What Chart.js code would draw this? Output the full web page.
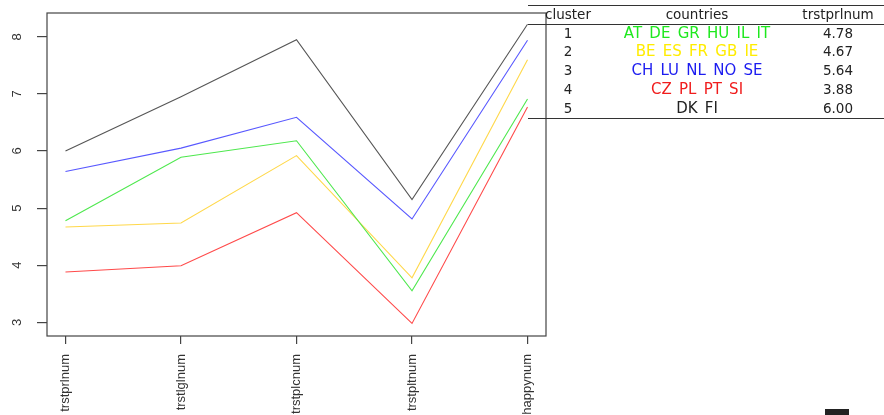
<!DOCTYPE html>
<html>
<head>
<meta charset="utf-8">
<script src="https://cdn.jsdelivr.net/npm/chart.js@4"></script>
<style>
  html, body { margin: 0; padding: 0; background: #fff; }
  #wrap { position: relative; width: 884px; height: 415px; overflow: hidden; }
  #chart { position: absolute; left: 0; top: 0; }
  .rule { position: absolute; left: 528px; right: 0; height: 0; border-top: 1.3px solid #333; }
  .cell { position: absolute; font: 13.5px "DejaVu Sans", sans-serif; color: #222; transform: translate(-50%, -50%); white-space: nowrap; }
  .cell.ctry { font-size: 15px; word-spacing: 2.5px; }
  #logo { position: absolute; left: 825px; top: 409px; width: 24px; height: 8px; background: #222; }
</style>
</head>
<body>
<div id="wrap">
  <canvas id="chart" width="884" height="415"></canvas>
  <div id="table"></div>
  <div id="logo"></div>
</div>
<script>
const variables = ['trstprlnum', 'trstlglnum', 'trstplcnum', 'trstpltnum', 'happynum'];
const yTicks = [3, 4, 5, 6, 7, 8];

const cluster1 = [4.78, 5.89, 6.18, 3.55, 6.91];
const cluster2 = [4.67, 4.74, 5.92, 3.78, 7.60];
const cluster3 = [5.64, 6.05, 6.59, 4.81, 7.94];
const cluster4 = [3.88, 3.99, 4.92, 2.98, 6.77];
const cluster5 = [6.00, 6.95, 7.95, 5.15, 8.22];

const lineColors = ['#4ee84e', '#ffd84a', '#5858ff', '#ff4a4a', '#555555'];

// table next to the plot
const tableHeader = ['cluster', 'countries', 'trstprlnum'];
const clusterIds = ['1', '2', '3', '4', '5'];
const countries = ['AT DE GR HU IL IT', 'BE ES FR GB IE', 'CH LU NL NO SE', 'CZ PL PT SI', 'DK FI'];
const trstprl = ['4.78', '4.67', '5.64', '3.88', '6.00'];
const textColors = ['#1ee81e', '#ffec00', '#1c1cf0', '#f01c1c', '#222222'];

const series = [cluster1, cluster2, cluster3, cluster4, cluster5];

const datasets = series.map((vals, i) => ({
    data: vals.map((v, j) => ({ x: j, y: v })),
    borderColor: lineColors[i],
    borderWidth: 1.1,
    pointRadius: 0,
    tension: 0,
    fill: false
}));

// box around plot + rotated y labels like R
const boxPlugin = {
    id: 'box',
    afterDraw(chart) {
        const { ctx, chartArea: a } = chart;
        ctx.save();
        ctx.strokeStyle = '#444';
        ctx.lineWidth = 1.2;
        ctx.strokeRect(a.left, a.top, a.right - a.left, a.bottom - a.top);
        const ys = chart.scales.y;
        ctx.fillStyle = '#333';
        ctx.font = '13px "Liberation Sans", Arial, sans-serif';
        ctx.textAlign = 'center';
        ctx.textBaseline = 'middle';
        ys.ticks.forEach(t => {
            const py = ys.getPixelForValue(t.value);
            ctx.save();
            ctx.translate(17, py);
            ctx.rotate(-Math.PI / 2);
            ctx.fillText(String(t.value), 0, 0);
            ctx.restore();
        });
        ctx.restore();
    }
};

new Chart(document.getElementById('chart'), {
    type: 'line',
    data: { datasets },
    options: {
        responsive: false,
        animation: false,
        layout: { padding: { left: 0, top: 13, right: 338, bottom: 0 } },
        plugins: { legend: { display: false }, tooltip: { enabled: false } },
        scales: {
            x: {
                type: 'linear',
                min: -0.16,
                max: 4.16,
                afterBuildTicks: s => { s.ticks = variables.map((v, i) => ({ value: i })); },
                afterFit: s => { s.height = 79; },
                border: { display: false },
                grid: { drawOnChartArea: false, drawTicks: true, tickLength: 8, color: '#444', lineWidth: 1.2 },
                ticks: {
                    autoSkip: false,
                    maxRotation: 90,
                    minRotation: 90,
                    padding: 10,
                    color: '#333',
                    font: { family: '"Liberation Sans", Arial, sans-serif', size: 13 },
                    callback: v => variables[v]
                }
            },
            y: {
                min: 2.76,
                max: 8.417,
                afterBuildTicks: s => { s.ticks = yTicks.map(v => ({ value: v })); },
                afterFit: s => { s.width = 47; },
                border: { display: false },
                grid: { drawOnChartArea: false, drawTicks: true, tickLength: 10, color: '#444', lineWidth: 1.2 },
                ticks: { color: 'rgba(0,0,0,0)', padding: 0 }
            }
        }
    },
    plugins: [boxPlugin]
});

// build the table
const table = document.getElementById('table');
const colX = [568, 697, 838];
const rowY = [14, 32.5, 51.3, 70, 88.7, 107.5];
const addCell = (txt, x, y, color, cls) => {
    const d = document.createElement('div');
    d.className = 'cell' + (cls ? ' ' + cls : '');
    d.style.left = x + 'px';
    d.style.top = y + 'px';
    d.style.color = color;
    d.textContent = txt;
    table.appendChild(d);
};
[5, 24, 117.7].forEach(y => {
    const r = document.createElement('div');
    r.className = 'rule';
    r.style.top = y + 'px';
    table.appendChild(r);
});
tableHeader.forEach((h, i) => addCell(h, colX[i], rowY[0], '#222'));
clusterIds.forEach((c, i) => {
    addCell(c, colX[0], rowY[i + 1], '#222');
    addCell(countries[i], colX[1], rowY[i + 1], textColors[i], 'ctry');
    addCell(trstprl[i], colX[2], rowY[i + 1], '#222');
});
</script>
</body>
</html>
